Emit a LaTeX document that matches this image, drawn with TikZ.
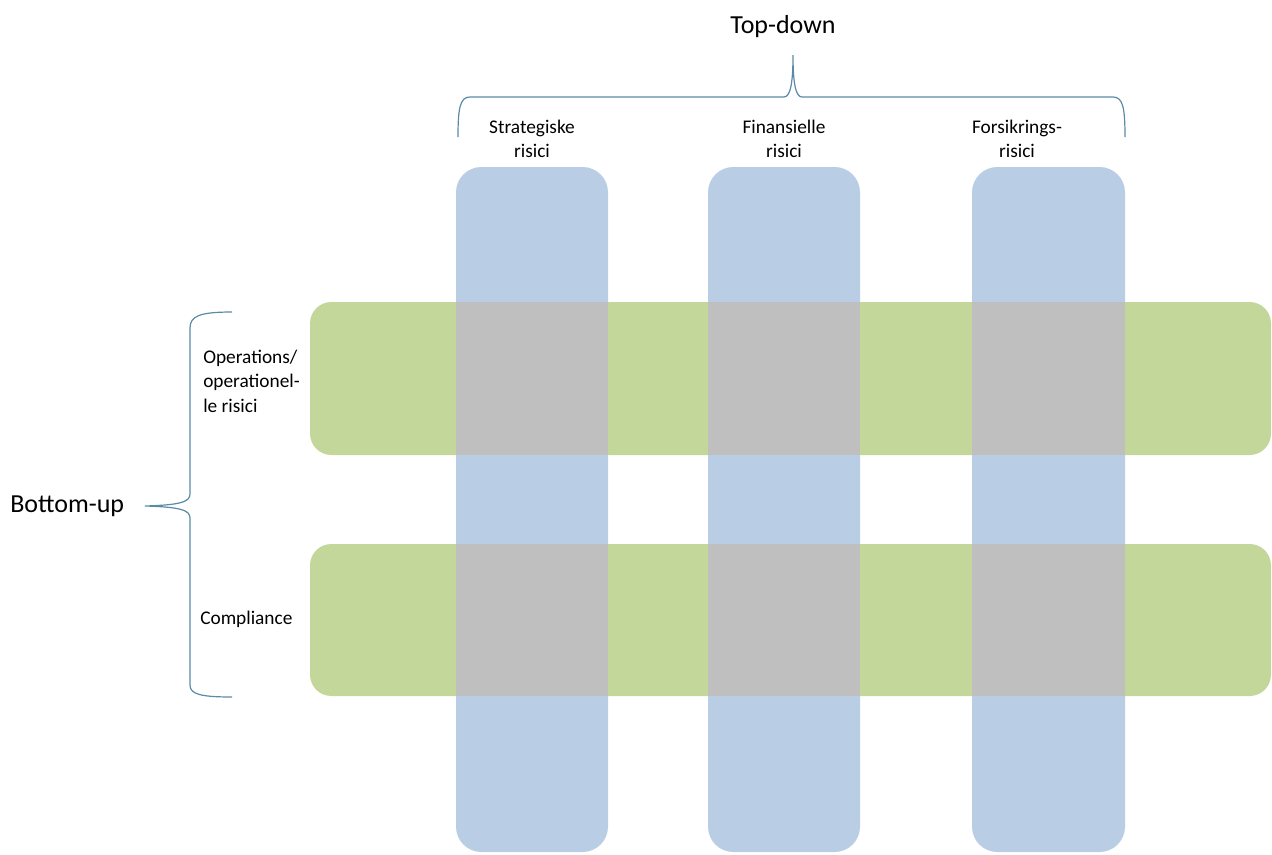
\documentclass[tikz,border=0pt]{standalone}
\usepackage{fontspec}
\setmainfont{Carlito}
\definecolor{colblue}{HTML}{B9CDE5}
\definecolor{rowgreen}{HTML}{C4D79B}
\definecolor{cross}{HTML}{BFBFBF}
\definecolor{bracec}{HTML}{5A8AA8}
\begin{document}
\begin{tikzpicture}[x=0.75pt,y=-0.75pt,
  colbar/.style={fill=colblue,rounded corners=19pt},
  rowbar/.style={fill=rowgreen,rounded corners=16pt},
  crossbox/.style={fill=cross},
  bracestyle/.style={draw=bracec,line width=0.9pt},
  lbl/.style={font=\fontsize{14.5}{18}\selectfont,align=center,inner sep=0pt},
  lbll/.style={font=\fontsize{14.5}{18.4}\selectfont,align=left,inner sep=0pt,anchor=west},
  bigl/.style={font=\fontsize{19.5}{23}\selectfont,inner sep=0pt}]
\useasboundingbox (0,0) rectangle (1272,854);
% columns
\foreach \xa/\xb in {456/608,708/860,972/1125}{
  \fill[colbar] (\xa,167) rectangle (\xb,852);
}
% rows
\foreach \ya/\yb in {302/455,544/696}{
  \fill[rowbar] (310,\ya) rectangle (1271,\yb);
}
% intersections
\foreach \xa/\xb in {456/608,708/860,972/1125}{
  \foreach \ya/\yb in {302/455,544/696}{
    \fill[crossbox] (\xa,\ya) rectangle (\xb,\yb);
  }
}
% labels
\node[bigl] (td) at (783,27) {Top-down};
\node[bigl,anchor=west] (bu) at (10,506) {Bottom-up};
\node[lbl] (c1) at (532,139) {Strategiske\\risici};
\node[lbl] (c2) at (784,139) {Finansielle\\risici};
\node[lbl] (c3) at (1017,139) {Forsikrings-\\risici};
\node[lbll] (r1) at (203,381) {Operations/\\operationel-\\le risici};
\node[lbll] (r2) at (200,619) {Compliance};
% top brace
\draw[bracestyle] (458,137) .. controls (458,108) and (460,97) .. (470,97)
  -- (784,97) .. controls (790,97) and (793,85) .. (793,55)
  .. controls (793,85) and (796,97) .. (802,97)
  -- (1113,97) .. controls (1123,97) and (1125,108) .. (1125,137);
% left brace
\draw[bracestyle] (232,312) .. controls (200,312) and (190,316) .. (190,328)
  -- (190,494) .. controls (190,502) and (180,505) .. (145,506)
  .. controls (180,507) and (190,510) .. (190,518)
  -- (190,685) .. controls (190,694) and (200,697) .. (232,697);
\end{tikzpicture}
\end{document}
